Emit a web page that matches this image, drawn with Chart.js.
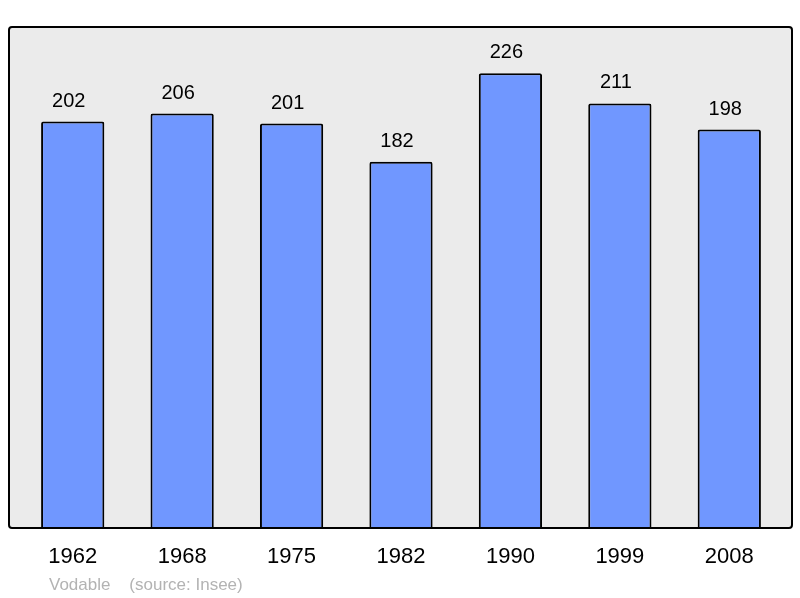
<!DOCTYPE html>
<html>
<head>
<meta charset="utf-8">
<script src="https://cdn.jsdelivr.net/npm/chart.js@4/dist/chart.umd.min.js"></script>
<style>
  html, body { margin: 0; padding: 0; background: #fff; }
  canvas { display: block; }
</style>
</head>
<body>
<canvas id="chart" width="800" height="598"></canvas>
<script>
const years = ['1962', '1968', '1975', '1982', '1990', '1999', '2008']
const population = [202, 206, 201, 182, 226, 211, 198]
const source_text = 'Vodable    (source: Insee)'

const COLORS = {
    bar: 'rgb(112, 151, 255)',
    frame_bg: '#ebebeb',
    border: '#000',
    note: '#b3b3b3'
}
const FONT = '"Liberation Sans", Arial, sans-serif'

// grey panel behind the bars, its outline drawn after so it sits over the bar feet
function frame_path(ctx, area){
    const x0 = area.left - 9, y0 = area.top, x1 = area.right + 8, y1 = area.bottom
    const r = 3
    ctx.beginPath()
    ctx.moveTo(x0 + r, y0)
    ctx.lineTo(x1 - r, y0)
    ctx.quadraticCurveTo(x1, y0, x1, y0 + r)
    ctx.lineTo(x1, y1 - r)
    ctx.quadraticCurveTo(x1, y1, x1 - r, y1)
    ctx.lineTo(x0 + r, y1)
    ctx.quadraticCurveTo(x0, y1, x0, y1 - r)
    ctx.lineTo(x0, y0 + r)
    ctx.quadraticCurveTo(x0, y0, x0 + r, y0)
    ctx.closePath()
}
const framePlugin = {
    id: 'frame',
    beforeDatasetsDraw(chart){
        const ctx = chart.ctx
        ctx.save()
        frame_path(ctx, chart.chartArea)
        ctx.fillStyle = COLORS.frame_bg
        ctx.fill()
        ctx.restore()
    },
    afterDatasetsDraw(chart){
        const ctx = chart.ctx
        ctx.save()
        frame_path(ctx, chart.chartArea)
        ctx.lineWidth = 2
        ctx.strokeStyle = COLORS.border
        ctx.stroke()
        // value labels above each bar
        ctx.fillStyle = '#000'
        ctx.font = '20px ' + FONT
        ctx.textAlign = 'center'
        ctx.textBaseline = 'alphabetic'
        chart.getDatasetMeta(0).data.forEach((bar, i) => {
            ctx.fillText(String(population[i]), bar.x - 4, bar.y - 15)
        })
        // source note
        ctx.fillStyle = COLORS.note
        ctx.font = '17px ' + FONT
        ctx.textAlign = 'left'
        ctx.fillText(source_text, 49, 590)
        ctx.restore()
    }
}

new Chart(document.getElementById('chart').getContext('2d'), {
    type: 'bar',
    data: {
        labels: years,
        datasets: [{
            data: population,
            backgroundColor: COLORS.bar,
            borderColor: COLORS.border,
            borderWidth: 2,
            borderRadius: 2,
            borderSkipped: 'start',
            barPercentage: 0.578,
            categoryPercentage: 1
        }]
    },
    options: {
        responsive: false,
        animation: false,
        layout: { padding: { left: 18, right: 16, top: 27, bottom: 0 } },
        plugins: { legend: { display: false }, tooltip: { enabled: false } },
        scales: {
            x: {
                grid: { display: false },
                border: { display: false },
                ticks: { color: '#000', font: { size: 22, family: FONT }, padding: 8 },
                afterFit(scale){ scale.height = 70 }
            },
            y: { display: false, min: 0, max: 249 }
        }
    },
    plugins: [framePlugin]
})
</script>
</body>
</html>
